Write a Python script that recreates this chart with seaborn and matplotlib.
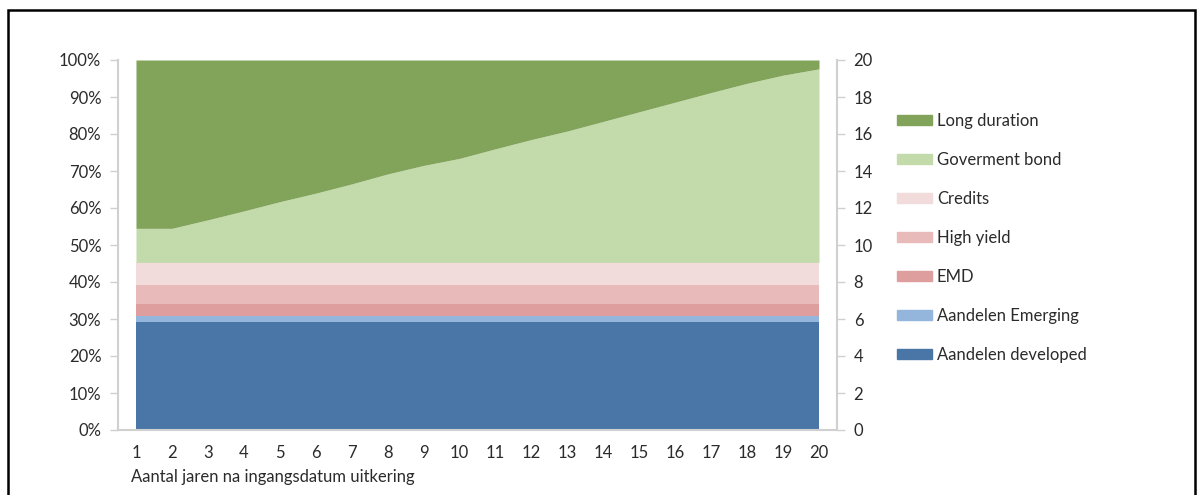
import matplotlib
matplotlib.use("Agg")
import matplotlib.pyplot as plt
import matplotlib.patches as mpatches
import seaborn as sns
import numpy as np

# jaren na ingangsdatum
jaren = list(range(1, 21))

# percentages per beleggingscategorie (gestapeld, van onder naar boven)
aandelen_developed = [29.3] * 20
aandelen_emerging = [1.6] * 20
emd = [3.1] * 20
high_yield = [5.2] * 20
credits = [6.1] * 20
# bovenkant van de goverment bond laag (cumulatief)
grens_gov = [54.5, 54.5, 56.8, 59.2, 61.7, 64.0, 66.5, 69.2, 71.5, 73.4,
             76.0, 78.5, 80.8, 83.4, 86.0, 88.6, 91.2, 93.7, 95.9, 97.6]

onder = np.array(aandelen_developed) + np.array(aandelen_emerging) + np.array(emd) \
    + np.array(high_yield) + np.array(credits)
gov_bond = list(np.array(grens_gov) - onder)
long_duration = list(100 - np.array(grens_gov))

namen = ["Aandelen developed", "Aandelen Emerging", "EMD", "High yield",
         "Credits", "Goverment bond", "Long duration"]
kleuren = ["#4a76a7", "#95b6dc", "#df9e9e", "#e9baba", "#f2dbdb", "#c3dbab", "#82a45a"]

sns.set_style("white")
plt.rcParams["font.family"] = ["Lato", "DejaVu Sans"]
tekstkleur = "#2b2b2b"
lijnkleur = "#d0d0d0"

fig = plt.figure(figsize=(12.03, 4.95), dpi=100)
ax = fig.add_axes([118 / 1203, 1 - 430 / 495, (837 - 118) / 1203, (430 - 60) / 495])

ax.stackplot(jaren, aandelen_developed, aandelen_emerging, emd, high_yield,
             credits, gov_bond, long_duration, colors=kleuren, linewidth=0)

ax.set_xlim(0.5, 20.5)
ax.set_ylim(0, 100)
ax.set_yticks(range(0, 101, 10))
ax.set_yticklabels([f"{v}%" for v in range(0, 101, 10)])

# tick markeringen tussen de categorieen, labels in het midden
ax.set_xticks(np.arange(0.5, 21, 1))
ax.set_xticklabels([])
ax.set_xticks(jaren, minor=True)
ax.set_xticklabels([str(j) for j in jaren], minor=True)
ax.tick_params(axis="x", which="major", length=6, width=1, color=lijnkleur, direction="out")
ax.tick_params(axis="x", which="minor", length=0, pad=11, labelsize=12, labelcolor=tekstkleur)
ax.tick_params(axis="y", length=6, width=1, color=lijnkleur, direction="out", pad=6,
               labelsize=12, labelcolor=tekstkleur)

for s in ["top", "right"]:
    ax.spines[s].set_visible(False)
for s in ["left", "bottom"]:
    ax.spines[s].set_color(lijnkleur)
    ax.spines[s].set_linewidth(1.5)

ax2 = ax.twinx()
ax2.set_ylim(0, 20)
ax2.set_yticks(range(0, 21, 2))
ax2.tick_params(axis="y", length=6, width=1, color=lijnkleur, direction="out", pad=6,
                labelsize=12, labelcolor=tekstkleur)
for s in ["top", "left", "bottom"]:
    ax2.spines[s].set_visible(False)
ax2.spines["right"].set_color(lijnkleur)
ax2.spines["right"].set_linewidth(1.5)

fig.text(131 / 1203, 1 - 477 / 495, "Aantal jaren na ingangsdatum uitkering",
         fontsize=12, color=tekstkleur, va="center", ha="left")

# legenda (omgekeerde volgorde)
handles = [mpatches.Patch(color=k, label=n) for n, k in zip(namen, kleuren)][::-1]
fig.legend(handles=handles, loc="upper left", bbox_to_anchor=(882 / 1203, 1 - 98 / 495),
           frameon=False, fontsize=12, labelcolor=tekstkleur, handlelength=2.1,
           handleheight=0.6, handletextpad=0.3, labelspacing=1.38)

# zwarte rand om de figuur
rand = mpatches.Rectangle((8 / 1203, -0.05), (1195 - 8) / 1203, 1 - 10 / 495 + 0.05,
                          transform=fig.transFigure, fill=False, edgecolor="black",
                          linewidth=1.8)
fig.patches.append(rand)

fig.savefig("out.png", dpi=100)
